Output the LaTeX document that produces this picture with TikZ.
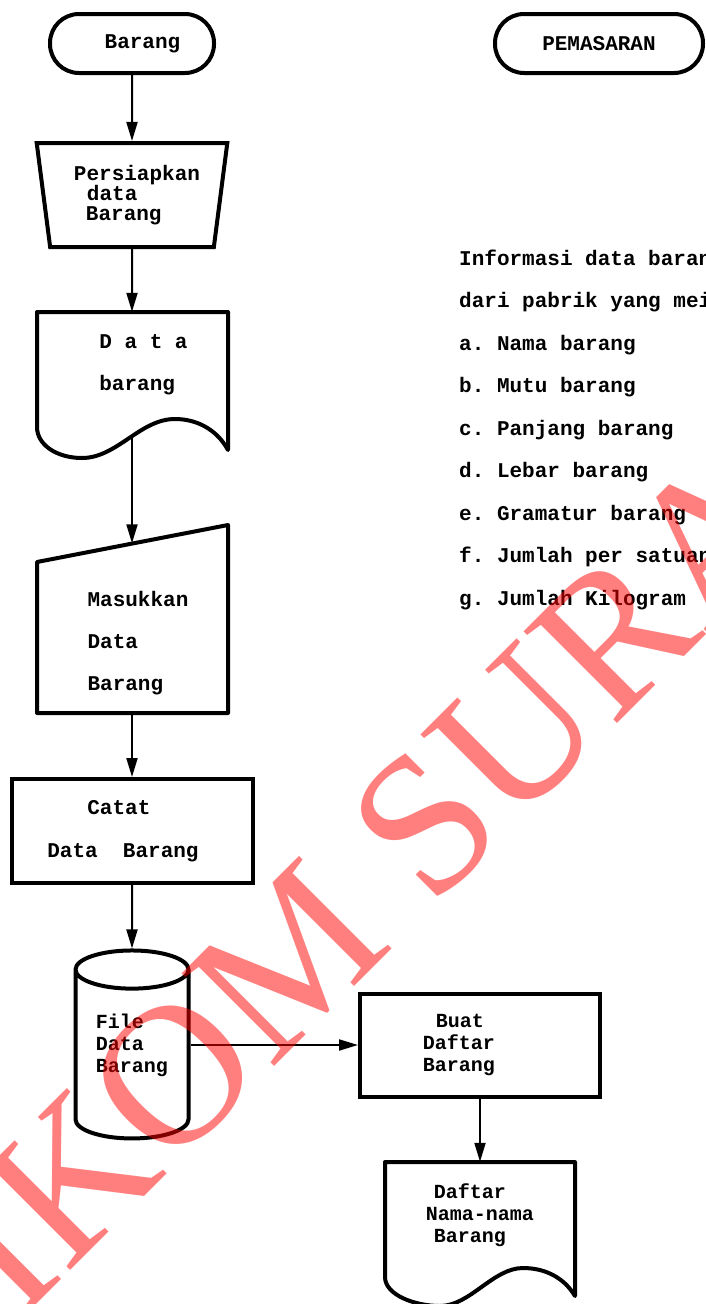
\documentclass[tikz,border=0pt]{standalone}
\usepackage{fontspec}
\setmainfont{Liberation Serif}
\setmonofont{Liberation Mono}
\usetikzlibrary{arrows.meta}
\usetikzlibrary{shapes.geometric}

\begin{document}
\begin{tikzpicture}[
    x=1pt, y=-1pt,
    every node/.style={font=\ttfamily\bfseries\fontsize{21}{21}\selectfont, inner sep=0pt},
    widelines/.style={font=\ttfamily\bfseries\fontsize{21}{42}\selectfont},
    tightlines/.style={font=\ttfamily\bfseries\fontsize{20}{22}\selectfont},
    terminal/.style={draw, line width=4pt, rounded corners=29pt, minimum height=59pt},
    process/.style={draw, line width=4pt},
    shapeline/.style={line width=4pt, line join=round},
    flowline/.style={line width=2pt, -{Triangle[length=19pt,width=11pt]}}]

    \useasboundingbox (0,0) rectangle (706,1304);
    \clip (0,0) rectangle (706,1304);
    \fill[white] (0,0) rectangle (706,1304);

    % terminators on top
    \node[terminal, minimum width=164pt] (barang) at (132,43.5) {\hspace*{21pt}Barang};
    \node[terminal, minimum width=208pt] (pemasaran) at (599,43.5) {PEMASARAN};

    % manual operation
    \node[trapezium, trapezium stretches=true, shape border rotate=180,
        trapezium angle=79.4, draw, line width=4pt,
        minimum width=191pt, minimum height=104pt, align=left,
        font=\ttfamily\bfseries\fontsize{21}{20}\selectfont]
        (persiapkan) at (132,195) {\hspace*{10pt}Persiapkan\\\hspace*{23pt}data\\\hspace*{22pt}Barang};

    % document with wavy bottom
    \node[widelines, align=left, minimum width=191pt, minimum height=126pt]
        (databrg) at (132,375) {\hspace*{23pt}D a t a\\\hspace*{23pt}barang\\[-17pt]\mbox{}};
    \draw[shapeline] (37,312) -- (228,312) -- (228,450)
        .. controls (216,428) and (195,419) .. (175,419)
        .. controls (140,419) and (117,458) .. (82,458)
        .. controls (57,458) and (37,445) .. (37,427) -- cycle;

    % manual input, slanted top
    \node[widelines, align=left, minimum width=191pt, minimum height=169.5pt]
        (masukkan) at (132,628.25) {\mbox{}\\[3.5pt]\hspace*{12pt}Masukkan\\\hspace*{12pt}Data\\\hspace*{12pt}Barang};
    \draw[shapeline] (37,713) -- (37,562) -- (228,525) -- (228,713) -- cycle;

    % process
    \node[process, minimum width=241pt, minimum height=104pt, align=left,
        font=\ttfamily\bfseries\fontsize{21}{43}\selectfont]
        (catat) at (132,831) {\hspace*{40pt}Catat\\Data~~Barang\hspace*{18pt}\mbox{}};

    % stored data
    \node[cylinder, shape border rotate=90, draw, line width=4pt, aspect=0.53,
        minimum width=113pt, minimum height=188pt, align=left, tightlines]
        (filedata) at (132,1055) {File\\Data\\Barang\\[2pt]\mbox{}};

    \node[process, minimum width=240pt, minimum height=103pt, align=left, tightlines]
        (buat) at (480,1045) {\hspace*{13pt}Buat\\Daftar\hspace*{42pt}\mbox{}\\Barang};

    % output document
    \node[tightlines, align=left, minimum width=190pt, minimum height=125pt]
        (daftar) at (480,1224.5) {\hspace*{8pt}Daftar\\Nama-nama\\\hspace*{8pt}Barang\\\mbox{}};
    \draw[shapeline] (385,1162) -- (575,1162) -- (575,1296)
        .. controls (563,1276) and (543,1268) .. (523,1268)
        .. controls (493,1268) and (470,1306) .. (440,1306)
        .. controls (415,1306) and (385,1295) .. (385,1277) -- cycle;

    % flow
    \draw[flowline] (barang) -- (persiapkan);
    \draw[flowline] (persiapkan) -- (databrg);
    \draw[flowline] (databrg) -- (masukkan);
    \draw[flowline] (masukkan) -- (catat);
    \draw[flowline] (catat) -- (filedata);
    \draw[flowline] (buat.west -| filedata.east) -- (buat);
    \draw[flowline] (buat) -- (daftar);

    % notes on the right
    \foreach \txt [count=\i] in {Informasi data barang, dari pabrik yang mei,
        a. Nama barang, b. Mutu barang, c. Panjang barang, d. Lebar barang,
        e. Gramatur barang, f. Jumlah per satuan, g. Jumlah Kilogram}
        \node[anchor=base west] (info\i) at (459,{265+42.5*(\i-1)}) {\txt};

    % watermark
    \node[rotate=45, text=red, text opacity=0.5,
        font=\rmfamily\mdseries\fontsize{200}{200}\selectfont]
        (wmark) at (368,881) {IKOM SURA};

\end{tikzpicture}
\end{document}
